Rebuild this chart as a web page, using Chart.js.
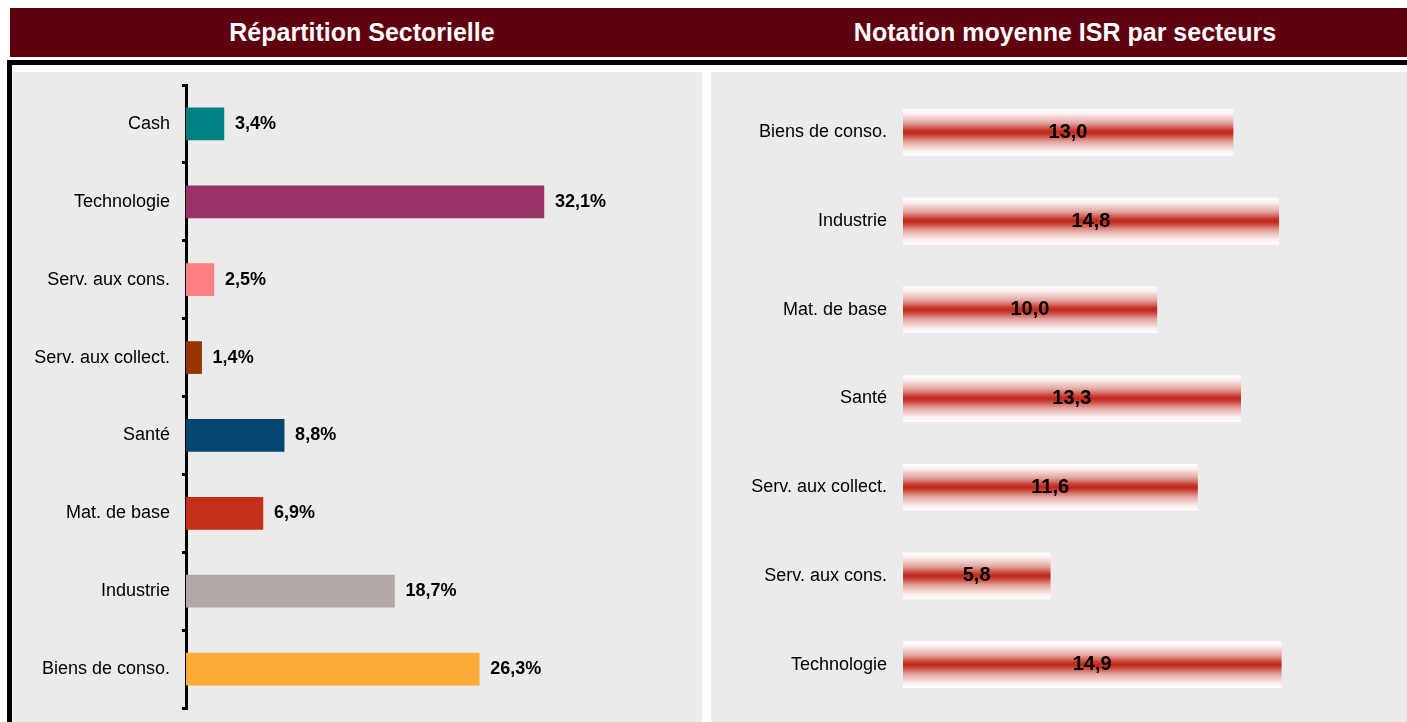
<!DOCTYPE html>
<html>
<head>
<meta charset="utf-8">
<script src="https://cdn.jsdelivr.net/npm/chart.js@4/dist/chart.umd.min.js"></script>
<style>
  body { margin: 0; background: #fff; width: 1407px; height: 722px; overflow: hidden; position: relative; font-family: Arial, "Liberation Sans", sans-serif; }
  .bandeau { position: absolute; left: 10px; top: 8px; width: 1397px; height: 49px; background: #5e0010; }
  .titre { position: absolute; top: 0; height: 49px; line-height: 49px; color: #fff; font-weight: bold; font-size: 25px; white-space: nowrap; transform: translateX(-50%); }
  .noir { position: absolute; background: #000; }
  .panneau { position: absolute; top: 72px; height: 650px; background: #ebebeb; }
  .panneau canvas { position: absolute; left: 0; top: 0; }
</style>
</head>
<body>
<div class="bandeau">
  <div class="titre" style="left:352px">Répartition Sectorielle</div>
  <div class="titre" style="left:1055px">Notation moyenne ISR par secteurs</div>
</div>
<div class="noir" style="left:7px;top:60px;width:1400px;height:5px"></div>
<div class="noir" style="left:7px;top:60px;width:5px;height:662px"></div>
<div class="panneau" style="left:12px;width:690px"><canvas id="repartition" width="690" height="650"></canvas></div>
<div class="panneau" style="left:711px;width:696px"><canvas id="notation" width="696" height="650"></canvas></div>

<script>
// répartition sectorielle (%)
const secteurs = ['Cash', 'Technologie', 'Serv. aux cons.', 'Serv. aux collect.', 'Santé', 'Mat. de base', 'Industrie', 'Biens de conso.'];
const poids = [3.4, 32.1, 2.5, 1.4, 8.8, 6.9, 18.7, 26.3];
const couleurs = ['#008080', '#993366', '#ff8080', '#993300', '#03466f', '#c52e18', '#b2a8a5', '#fbab36'];

// notation moyenne ISR
const secteursIsr = ['Biens de conso.', 'Industrie', 'Mat. de base', 'Santé', 'Serv. aux collect.', 'Serv. aux cons.', 'Technologie'];
const notes = [13.0, 14.8, 10.0, 13.3, 11.6, 5.8, 14.9];

Chart.defaults.font.family = 'Arial, "Liberation Sans", sans-serif';
Chart.defaults.color = '#000';
Chart.defaults.animation = false;

function virgule(v, d) {
  return v.toFixed(d).replace('.', ',');
}

// largeur fixe de l'axe des catégories, sans marge haute/basse
function axeFixe(largeur) {
  return (s) => {
    s.width = largeur;
    s.paddingTop = 0;
    s.paddingBottom = 0;
  };
}

// étiquettes de valeurs
const etiquettes = {
  id: 'etiquettes',
  afterDatasetsDraw(chart, args, opts) {
    const ctx = chart.ctx;
    const meta = chart.getDatasetMeta(0);
    const data = chart.data.datasets[0].data;
    ctx.save();
    ctx.fillStyle = '#000';
    ctx.font = 'bold ' + opts.size + 'px Arial, "Liberation Sans", sans-serif';
    ctx.textBaseline = 'middle';
    meta.data.forEach((el, i) => {
      if (opts.centre) {
        ctx.textAlign = 'center';
        ctx.fillText(opts.format(data[i]), (el.base + el.x) / 2, el.y);
      } else {
        ctx.textAlign = 'left';
        ctx.fillText(opts.format(data[i]), el.x + 11, el.y);
      }
    });
    ctx.restore();
  },
};

new Chart(document.getElementById('repartition'), {
  type: 'bar',
  data: {
    labels: secteurs,
    datasets: [{
      data: poids,
      backgroundColor: couleurs,
      barThickness: 32,
    }],
  },
  options: {
    indexAxis: 'y',
    responsive: false,
    layout: {padding: {top: 13, bottom: 14, left: 0, right: 70}},
    plugins: {
      legend: {display: false},
      tooltip: {enabled: false},
      etiquettes: {size: 18, centre: false, format: (v) => virgule(v, 1) + '%'},
    },
    scales: {
      x: {display: false, min: 0, max: 40},
      y: {
        z: 1,
        afterFit: axeFixe(174),
        grid: {display: true, drawOnChartArea: false, drawTicks: true, tickLength: 4, color: '#000', lineWidth: 3},
        border: {display: true, color: '#000', width: 3},
        ticks: {padding: 12, font: {size: 18}, color: '#000'},
      },
    },
  },
  plugins: [etiquettes],
});

new Chart(document.getElementById('notation'), {
  type: 'bar',
  data: {
    labels: secteursIsr,
    datasets: [{
      data: notes,
      barThickness: 46,
      backgroundColor: function(c) {
        const y = c.chart.scales.y;
        if (c.type !== 'data' || !y) return '#c0281e';
        const py = y.getPixelForValue(c.dataIndex);
        if (!isFinite(py)) return '#c0281e';
        const g = c.chart.ctx.createLinearGradient(0, py - 23, 0, py + 23);
        g.addColorStop(0, '#ffffff');
        g.addColorStop(0.1, '#fbeeee');
        g.addColorStop(0.3, '#e2a29c');
        g.addColorStop(0.45, '#c83a2e');
        g.addColorStop(0.5, '#c0281e');
        g.addColorStop(0.55, '#c83a2e');
        g.addColorStop(0.7, '#e2a29c');
        g.addColorStop(0.9, '#fbeeee');
        g.addColorStop(1, '#ffffff');
        return g;
      },
    }],
  },
  options: {
    indexAxis: 'y',
    responsive: false,
    layout: {padding: {top: 16, bottom: 13, left: 0, right: 47}},
    plugins: {
      legend: {display: false},
      tooltip: {enabled: false},
      etiquettes: {size: 20, centre: true, format: (v) => virgule(v, 1)},
    },
    scales: {
      x: {display: false, min: 0, max: 18},
      y: {
        afterFit: axeFixe(192),
        grid: {display: false, drawTicks: false},
        border: {display: false},
        ticks: {padding: 16, font: {size: 18}, color: '#000'},
      },
    },
  },
  plugins: [etiquettes],
});
</script>
</body>
</html>
